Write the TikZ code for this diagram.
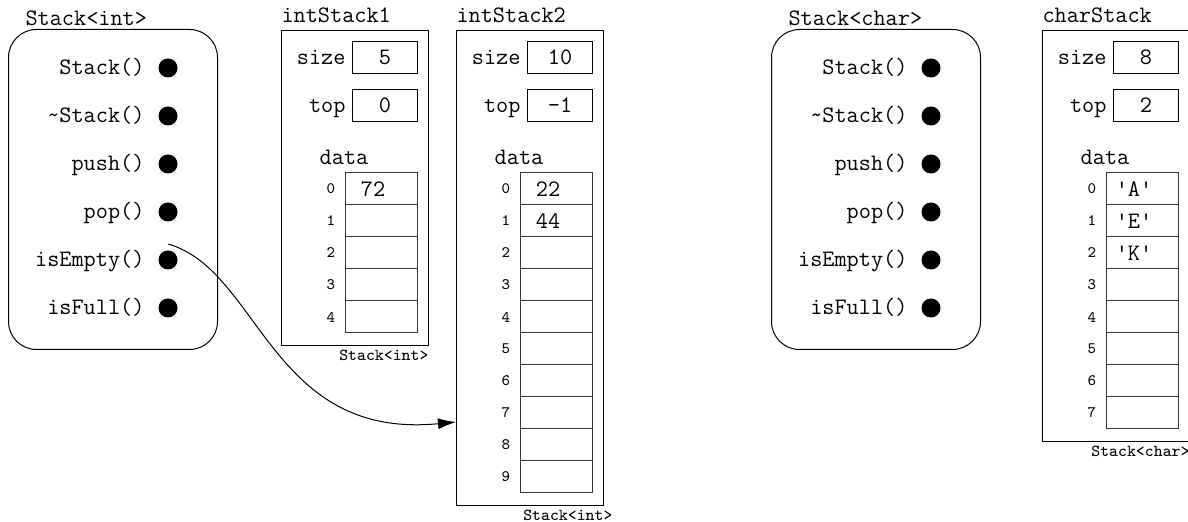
\documentclass[tikz,border=0pt]{standalone}
\usepackage{fontspec}
\usetikzlibrary{arrows.meta}

\tikzset{
  txt/.style={inner sep=0pt},
  clsbox/.style={draw,rounded corners=14pt,minimum width=104.5pt,minimum height=160pt,inner sep=0pt},
  dot/.style={circle,fill,inner sep=0pt,minimum size=9.5pt},
  field/.style={draw,minimum width=32.5pt,minimum height=16pt,inner sep=0pt},
  cell/.style={draw=black!80,minimum width=36pt,minimum height=16pt,inner sep=0pt},
  idx/.style={inner sep=0pt,font=\ttfamily\fontsize{8}{9}\selectfont},
  tname/.style={inner sep=0pt,font=\ttfamily\fontsize{8.4}{9}\selectfont},
}

% #1 name, #2 left edge, #3 title, #4 size, #5 top, #6 cells, #7 values, #8 type, #9 shift of type
\newcommand{\stackobj}[9]{%
  \pgfmathsetmacro{\objh}{(155+32*#6)/2}
  \pgfmathtruncatemacro{\lastc}{#6-1}
  \node[draw,anchor=north west,minimum width=73.5pt,minimum height=\objh pt,inner sep=0pt] (#1) at (#2,30) {};
  \node[txt,anchor=base west] (#1-name) at (#2,23) {#3};
  \node[field] (#1-size) at (#2+104,57.5) {#4};
  \node[field] (#1-top) at (#2+104,105.5) {#5};
  \node[txt,anchor=base east] (#1-sl) at ([xshift=-3pt,yshift=-3.75pt]#1-size.west) {size};
  \node[txt,anchor=base east] (#1-tl) at ([xshift=-3pt,yshift=-3.75pt]#1-top.west) {top};
  \node[txt,anchor=base] (#1-dl) at (#2+63,165) {data};
  \foreach \i in {0,...,\lastc}{
    \node[cell] (#1-c\i) at (#2+100,189+32*\i) {};
    \node[idx,anchor=east] (#1-i\i) at ([xshift=-4.5pt]#1-c\i.west) {\i};
  }
  \foreach \v [count=\i from 0] in {#7}{
    \node[txt,xshift=-4pt] (#1-v\i) at (#1-c\i) {\v};
  }
  \node[tname,anchor=north east] (#1-type) at ([xshift=#9,yshift=-2pt]#1.south east) {#8};
}

\begin{document}
\begin{tikzpicture}[x=0.5pt,y=-0.5pt,>=Latex,line width=0.5pt,
  font=\ttfamily\fontsize{11.8}{13}\selectfont]
\useasboundingbox (0,0) rectangle (1188,522);

% the two class boxes
\foreach \ox/\nm/\tp in {0/ci/int,763/cc/char}{
  \node[clsbox,anchor=north west] (\nm) at (8+\ox,29) {};
  \node[txt,anchor=base west] (\nm-name) at (25+\ox,26) {Stack<\tp>};
  \foreach \fn [count=\i] in {Stack(),\textasciitilde Stack(),push(),pop(),isEmpty(),isFull()}{
    \node[dot] (\nm-m\i) at (168+\ox,20+48*\i) {};
    \node[txt,anchor=base east] (\nm-f\i) at (145+\ox,26.5+48*\i) {\fn};
  }
}

% the objects
\stackobj{ob1}{281}{intStack1}{5}{0}{5}{72}{Stack<int>}{0pt}
\stackobj{ob2}{456}{intStack2}{10}{-1}{10}{22,44}{Stack<int>}{4.5pt}
\stackobj{ob3}{1042}{charStack}{8}{2}{8}{\textquotesingle A\textquotesingle,\textquotesingle E\textquotesingle,\textquotesingle K\textquotesingle}{Stack<char>}{0pt}

% call of isEmpty() on intStack2
\coordinate (hit) at ([yshift=-77pt]ob2.west);
\draw[-{Latex[length=9pt,width=5.5pt]}] ([yshift=3pt]ci-m5.north) .. controls (260,270) and (270,440) .. (hit);
\end{tikzpicture}
\end{document}
